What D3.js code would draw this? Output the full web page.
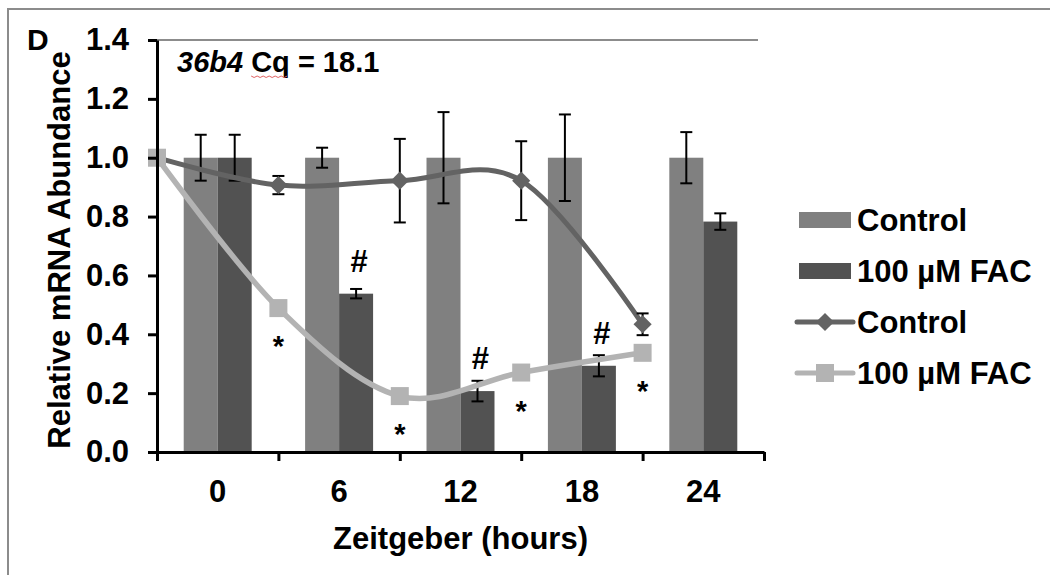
<!DOCTYPE html>
<html>
<head>
<meta charset="utf-8">
<script src="https://cdn.jsdelivr.net/npm/d3@7"></script>
<style>
  body { margin: 0; background: #fff; }
  svg { display: block; font-family: "Liberation Sans", Arial, sans-serif; font-weight: bold; }
</style>
</head>
<body>
<script>
// values
var categories = ["0", "6", "12", "18", "24"];
var controlBar = [1, 1, 1, 1, 1];
var controlBarErr = [0.078, 0.034, 0.155, 0.147, 0.087];
var facBar = [1, 0.538, 0.207, 0.293, 0.783];
var facBarErr = [0.078, 0.016, 0.035, 0.036, 0.028];
var facBarMark = ["", "#", "#", "#", ""];

// line series sit on the category boundaries (hours)
var lineHours = [-3, 3, 9, 15, 21];
var controlLine = [1, 0.907, 0.922, 0.922, 0.434];
var controlLineErr = [0, 0.031, 0.142, 0.134, 0.037];
var facLine = [1, 0.489, 0.19, 0.27, 0.337];
var facLineMark = ["", "*", "*", "*", "*"];

var yTicks = [0, 0.2, 0.4, 0.6, 0.8, 1.0, 1.2, 1.4];
var boundaryHours = [-3, 3, 9, 15, 21, 27];

var canvas = {w: 1050, h: 575},
    margin = {top: 40, left: 157},
    width = 607,
    height = 412;

var colors = {control: "#808080", fac: "#525252", ctrlLine: "#636363", facLine: "#b3b3b3"};
var fontSize = "31px";

var svg = d3.select("body").append("svg")
    .attr("width", canvas.w)
    .attr("height", canvas.h);

// outer frame
svg.append("rect")
    .attr("x", 8).attr("y", 9)
    .attr("width", canvas.w + 20).attr("height", canvas.h + 20)
    .attr("fill", "none").attr("stroke", "#8c8c8c").attr("stroke-width", 2);

var g = svg.append("g")
    .attr("transform", "translate(" + margin.left + "," + margin.top + ")");

var y = d3.scaleLinear().domain([0, 1.4]).range([height, 0]);
var x0 = d3.scaleBand().domain(categories).range([0, width])
    .paddingInner(0.44).paddingOuter(0.22);
var x1 = d3.scaleBand().domain(["control", "fac"]).range([0, x0.bandwidth()]);
var xh = d3.scaleLinear().domain([-3, 27]).range([0, width]);

// top border of plot area
g.append("line")
    .attr("x1", 0).attr("x2", width - 6).attr("y1", 0).attr("y2", 0)
    .attr("stroke", "#8c8c8c").attr("stroke-width", 2);

// bars
var bars = categories.map(function(c, i) {
    return [
        {cat: c, key: "control", v: controlBar[i], e: controlBarErr[i], mark: ""},
        {cat: c, key: "fac", v: facBar[i], e: facBarErr[i], mark: facBarMark[i]}
    ];
});

var grp = g.selectAll(".cat")
    .data(bars)
    .enter().append("g")
    .attr("class", "cat")
    .attr("transform", function(d) { return "translate(" + x0(d[0].cat) + ",0)"; });

grp.selectAll("rect")
    .data(function(d) { return d; })
    .enter().append("rect")
    .attr("x", function(d) { return x1(d.key); })
    .attr("width", x1.bandwidth())
    .attr("y", function(d) { return y(d.v); })
    .attr("height", function(d) { return height - y(d.v); })
    .attr("fill", function(d) { return colors[d.key]; });

// error bars
function errorBar(sel, cx, v, e) {
    sel.append("line")
        .attr("x1", cx).attr("x2", cx).attr("y1", y(v - e)).attr("y2", y(v + e));
    sel.append("line")
        .attr("x1", cx - 6).attr("x2", cx + 6).attr("y1", y(v + e)).attr("y2", y(v + e));
    sel.append("line")
        .attr("x1", cx - 6).attr("x2", cx + 6).attr("y1", y(v - e)).attr("y2", y(v - e));
}

var errG = g.append("g").attr("stroke", "#000").attr("stroke-width", 2);
bars.forEach(function(pair) {
    pair.forEach(function(d) {
        errorBar(errG, x0(d.cat) + x1(d.key) + x1.bandwidth() / 2, d.v, d.e);
    });
});

// significance marks above FAC bars
bars.forEach(function(pair) {
    var d = pair[1];
    if (!d.mark) return;
    g.append("text")
        .attr("x", x0(d.cat) + x1(d.key) + x1.bandwidth() / 2 + 3)
        .attr("y", y(d.v) - 22)
        .attr("text-anchor", "middle")
        .style("font-size", "31px")
        .text(d.mark);
});

// smoothed lines
var line = d3.line()
    .curve(d3.curveCardinal.tension(0))
    .x(function(d) { return xh(d.h); })
    .y(function(d) { return y(d.v); });

var ctrlPts = lineHours.map(function(h, i) { return {h: h, v: controlLine[i], e: controlLineErr[i]}; });
var facPts = lineHours.map(function(h, i) { return {h: h, v: facLine[i], mark: facLineMark[i]}; });

g.append("path")
    .attr("d", line(ctrlPts))
    .attr("fill", "none").attr("stroke", colors.ctrlLine).attr("stroke-width", 5);

var lineErr = g.append("g").attr("stroke", "#000").attr("stroke-width", 2);
ctrlPts.forEach(function(d) {
    if (d.e > 0) errorBar(lineErr, xh(d.h), d.v, d.e);
});

var diamond = d3.symbol().type(d3.symbolDiamond2).size(210);
g.selectAll(".dia")
    .data(ctrlPts)
    .enter().append("path")
    .attr("class", "dia")
    .attr("d", diamond)
    .attr("transform", function(d) { return "translate(" + xh(d.h) + "," + y(d.v) + ")"; })
    .attr("fill", colors.ctrlLine);

g.append("path")
    .attr("d", line(facPts))
    .attr("fill", "none").attr("stroke", colors.facLine).attr("stroke-width", 5.5);

g.selectAll(".sq")
    .data(facPts)
    .enter().append("rect")
    .attr("class", "sq")
    .attr("x", function(d) { return xh(d.h) - 9; })
    .attr("y", function(d) { return y(d.v) - 9; })
    .attr("width", 18).attr("height", 18)
    .attr("fill", colors.facLine);

g.selectAll(".star")
    .data(facPts.filter(function(d) { return d.mark; }))
    .enter().append("text")
    .attr("class", "star")
    .attr("x", function(d) { return xh(d.h); })
    .attr("y", function(d) { return y(d.v) + 48; })
    .attr("text-anchor", "middle")
    .style("font-size", "29px")
    .text(function(d) { return d.mark; });

// axes
var yAxis = g.append("g")
    .call(d3.axisLeft(y).tickValues(yTicks).tickFormat(d3.format(".1f"))
        .tickSize(9).tickSizeOuter(0).tickPadding(19));
var xAxis = g.append("g")
    .attr("transform", "translate(0," + height + ")")
    .call(d3.axisBottom(xh).tickValues(boundaryHours).tickFormat("")
        .tickSize(9).tickSizeOuter(0));
[yAxis, xAxis].forEach(function(a) {
    a.selectAll("path, line").attr("stroke", "#000").attr("stroke-width", 3);
});
yAxis.selectAll("text")
    .style("font-size", fontSize).attr("fill", "#000")
    .style("font-family", "'Liberation Sans', Arial, sans-serif").style("font-weight", "bold");

g.append("g")
    .selectAll("text")
    .data(categories)
    .enter().append("text")
    .attr("x", function(d) { return x0(d) + x0.bandwidth() / 2; })
    .attr("y", height + 50)
    .attr("text-anchor", "middle")
    .style("font-size", fontSize)
    .text(function(d) { return d; });

// axis titles
g.append("text")
    .attr("x", width / 2)
    .attr("y", height + 97)
    .attr("text-anchor", "middle")
    .style("font-size", fontSize)
    .text("Zeitgeber (hours)");

g.append("text")
    .attr("transform", "rotate(-90)")
    .attr("x", -height / 2 - 4)
    .attr("y", -margin.left + 70)
    .attr("text-anchor", "middle")
    .style("font-size", fontSize)
    .text("Relative mRNA Abundance");

svg.append("text")
    .attr("x", 27).attr("y", 50)
    .style("font-size", "30px")
    .text("D");

// gene annotation
var note = g.append("text")
    .attr("x", 20).attr("y", 32)
    .style("font-size", "29px");
note.append("tspan").style("font-style", "italic").text("36b4");
note.append("tspan").text(" Cq = 18.1");

// spell-check squiggle under "Cq"
var nn = note.node();
var c0 = nn.getExtentOfChar(5), c1 = nn.getExtentOfChar(6);
var sx = c0.x, ex = c1.x + c1.width, sy = 36;
var zz = [];
for (var px = sx; px <= ex; px += 3) zz.push([px, sy + ((Math.round((px - sx) / 3) % 2) ? 1.5 : 0)]);
g.append("path")
    .attr("d", d3.line()(zz))
    .attr("fill", "none").attr("stroke", "#e06060").attr("stroke-width", 1);

// legend
var legendItems = [
    {label: "Control", type: "bar", color: colors.control},
    {label: "100 \u00b5M FAC", type: "bar", color: colors.fac},
    {label: "Control", type: "diamond", color: colors.ctrlLine},
    {label: "100 \u00b5M FAC", type: "square", color: colors.facLine}
];

var legend = svg.append("g").attr("transform", "translate(797,220)");
var li = legend.selectAll(".li")
    .data(legendItems)
    .enter().append("g")
    .attr("class", "li")
    .attr("transform", function(d, i) { return "translate(0," + (i * 51) + ")"; });

li.filter(function(d) { return d.type === "bar"; })
    .append("rect")
    .attr("x", 2).attr("y", -8).attr("width", 52).attr("height", 16)
    .attr("fill", function(d) { return d.color; });

li.filter(function(d) { return d.type !== "bar"; })
    .append("line")
    .attr("x1", 0).attr("x2", 56).attr("y1", 0).attr("y2", 0)
    .attr("stroke", function(d) { return d.color; })
    .attr("stroke-width", 5).attr("stroke-linecap", "round");

li.filter(function(d) { return d.type === "diamond"; })
    .append("path")
    .attr("d", diamond)
    .attr("transform", "translate(28,0)")
    .attr("fill", function(d) { return d.color; });

li.filter(function(d) { return d.type === "square"; })
    .append("rect")
    .attr("x", 19).attr("y", -9).attr("width", 18).attr("height", 18)
    .attr("fill", function(d) { return d.color; });

li.append("text")
    .attr("x", 60).attr("y", 11)
    .style("font-size", fontSize)
    .text(function(d) { return d.label; });
</script>
</body>
</html>
